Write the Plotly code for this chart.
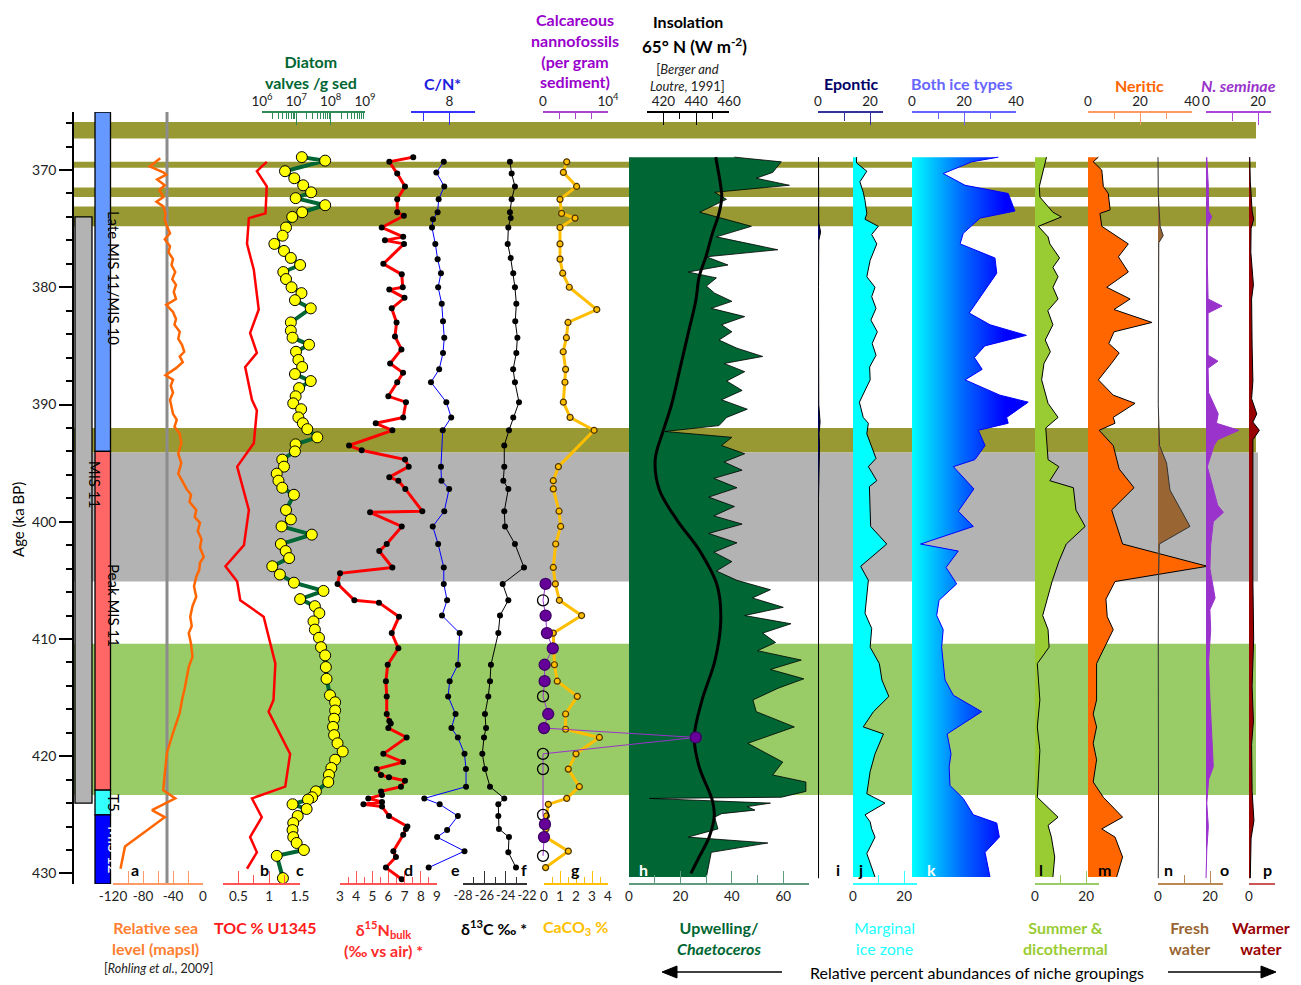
import math
import plotly.graph_objects as go

W, H = 1301, 985
FONT = "Lato, 'Open Sans', sans-serif"

# Age axis (ka BP), youngest at the top
AGE_TOP, AGE_BOT = 365.05, 430.9
TOP_PX, BOT_PX = 112, 884

# ---------------- data ----------------
# a: relative sea level (m)
sl_age = [369.0, 369.7, 370.2, 370.4, 370.8, 371.3, 371.7, 372.3, 372.7, 373.1, 373.7, 374.2, 374.8, 375.4,
          375.9, 376.5, 377.0, 377.6, 378.1, 378.7, 379.3, 379.8, 380.4, 381.0, 381.5, 382.1, 382.7, 383.2,
          383.8, 384.4, 384.9, 385.5, 385.9, 386.4, 386.9, 387.5, 387.9, 388.4, 389.0, 389.6, 390.2, 390.8,
          391.3, 391.9, 392.5, 393.3, 394.2, 395.0, 395.9, 396.6, 397.2, 397.7, 398.3, 399.0, 399.6, 400.1,
          400.8, 401.5, 402.2, 403.0, 403.5, 404.1, 404.7, 405.5, 406.4, 407.2, 408.1, 408.9, 409.5, 410.4,
          411.5, 412.4, 413.2, 414.1, 415.2, 416.3, 418.0, 419.7, 421.5, 422.9, 423.6, 424.6, 425.2, 427.7,
          429.6]
sl_val = [-57, -71, -53, -49, -61, -51, -58, -53, -62, -53, -50, -51, -48, -44, -51, -44, -46, -40, -42, -37,
          -41, -36, -39, -36, -49, -40, -36, -38, -31, -33, -28, -25, -31, -27, -36, -50, -40, -43, -40, -44,
          -42, -40, -35, -38, -31, -29, -33, -29, -33, -27, -22, -16, -18, -9, -11, -4, -7, -2, -4, 1, -4, -5,
          -9, -12, -9, -14, -17, -15, -19, -16, -14, -19, -21, -24, -28, -31, -40, -48, -51, -53, -37, -68,
          -51, -104, -110]
SL_REF = -48  # vertical reference level

# b: TOC %
toc_age = [369.3, 370.1, 371.4, 373.7, 374.1, 376.3, 378.5, 381.9, 383.9, 385.6, 386.8, 389.6, 390.5,
           393.3, 395.3, 399.0, 402.0, 403.8, 405.1, 406.7, 408.1, 412.1, 415.2, 416.2, 419.8, 422.6,
           423.6, 425.2, 426.9, 428.2, 429.6]
toc_val = [0.96, 0.80, 0.96, 0.94, 0.67, 0.64, 0.75, 0.83, 0.69, 0.80, 0.61, 0.72, 0.80, 0.75, 0.48, 0.67,
           0.59, 0.29, 0.48, 0.53, 0.91, 1.10, 1.07, 0.99, 1.34, 1.26, 0.72, 0.88, 0.69, 0.80, 0.64]

# c: diatom valves per gram sediment (log10)
diat_age = [368.9, 369.2, 370.1, 370.7, 371.3, 371.9, 372.4, 373.0, 373.6, 374.0, 374.9, 375.6, 376.3, 376.9,
            377.5, 378.1, 378.7, 379.3, 380.0, 380.5, 381.1, 381.8, 383.0, 383.7, 384.3, 384.9, 385.5, 386.2,
            386.8, 387.4, 388.0, 388.6, 389.3, 389.9, 390.4, 391.1, 391.6, 392.1, 392.8, 393.4, 394.0, 394.7,
            395.3, 395.9, 396.5, 397.1, 397.7, 399.0, 399.8, 400.4, 401.1, 401.9, 402.5, 403.1, 403.8, 404.5,
            405.2, 405.9, 406.6, 407.2, 407.8, 408.5, 409.2, 409.9, 410.7, 411.4, 412.4, 413.4, 414.8, 415.4,
            416.1, 416.8, 417.5, 418.2, 418.9, 419.6, 420.3, 421.0, 421.6, 422.2, 423.0, 423.5, 423.7, 424.1,
            424.5, 425.1, 425.7, 426.3, 426.9, 427.4, 428.0, 428.5, 430.4]
diat_log = [7.16, 7.84, 6.67, 6.94, 7.20, 7.43, 6.98, 7.84, 7.17, 6.88, 6.70, 6.60, 6.36, 6.64, 6.84, 7.11,
            6.62, 6.70, 6.86, 7.15, 6.96, 7.42, 6.84, 6.84, 6.89, 7.37, 6.99, 7.06, 7.17, 6.96, 7.42, 7.08,
            6.98, 6.91, 7.14, 7.06, 7.19, 7.32, 7.61, 6.98, 6.96, 6.59, 6.64, 6.43, 6.48, 6.59, 6.93, 6.70,
            6.84, 6.57, 7.45, 6.55, 6.69, 6.79, 6.30, 6.52, 6.93, 7.79, 7.11, 7.54, 7.67, 7.50, 7.54, 7.66,
            7.72, 7.84, 7.86, 7.88, 7.98, 8.13, 8.13, 8.10, 8.07, 8.10, 8.20, 8.35, 8.13, 8.02, 7.95, 7.93,
            7.57, 7.46, 7.34, 6.89, 7.30, 7.04, 6.91, 6.89, 6.91, 7.01, 7.22, 6.43, 6.61]

# d: d15N bulk (permil vs air)
n15_age = [368.9, 369.3, 370.3, 371.4, 372.5, 373.6, 373.9, 374.9, 375.7, 376.0, 376.3, 378.0, 378.9, 380.0,
           380.2, 380.9, 381.8, 383.0, 384.2, 385.3, 386.5, 387.3, 388.1, 389.3, 389.8, 391.1, 391.6, 392.2,
           393.5, 393.9, 394.7, 395.3, 396.2, 396.5, 397.2, 399.1, 399.2, 400.4, 401.9, 402.5, 403.9, 404.4,
           405.3, 406.7, 406.9, 408.1, 409.5, 410.8, 412.2, 413.6, 414.9, 416.4, 417.0, 417.2, 417.6, 418.4,
           419.8, 420.5, 421.1, 421.6, 421.8, 422.1, 422.6, 423.0, 423.3, 423.6, 423.9, 424.1, 424.3, 425.1,
           426.0, 426.2, 426.7, 428.1, 428.6, 429.5, 430.5]
n15_val = [7.53, 6.05, 6.54, 7.02, 6.54, 6.54, 6.95, 5.58, 6.91, 5.78, 6.96, 5.68, 6.82, 6.88, 6.05, 6.99,
           6.2, 6.5, 6.4, 6.8, 6.1, 6.9, 6.54, 5.99, 7.08, 6.91, 5.21, 6.24, 3.56, 4.34, 7.02, 7.25, 6.05,
           6.61, 7.04, 8.09, 4.86, 6.82, 5.89, 5.43, 6.24, 3.0, 2.85, 3.89, 5.41, 6.65, 6.20, 6.61, 5.95, 5.84,
           5.89, 5.89, 6.05, 6.14, 5.99, 7.12, 5.68, 6.91, 5.27, 5.54, 6.03, 7.02, 6.77, 5.54, 5.6, 4.75, 5.6,
           4.45, 5.6, 6.03, 7.17, 7.08, 6.91, 6.30, 6.46, 5.84, 6.82]

# e: C/N
cn_age = [369.3, 370.2, 371.4, 372.5, 373.6, 374.2, 374.9, 376.3, 377.6, 378.8, 380.0, 381.4, 382.9, 384.3,
          385.6, 387.0, 388.1, 389.8, 391.1, 392.2, 395.3, 396.5, 397.2, 399.1, 400.4, 401.9, 403.9, 405.3,
          406.7, 408.0, 409.5, 412.2, 413.6, 414.9, 416.4, 417.6, 418.4, 419.8, 421.1, 422.6, 423.6, 424.1,
          425.1, 426.3, 426.9, 428.1, 429.5]
cn_val = [7.78, 7.49, 7.80, 7.58, 7.54, 7.36, 7.32, 7.45, 7.54, 7.67, 7.56, 7.7, 7.75, 7.8, 7.75, 7.6, 7.28,
          7.88, 8.07, 7.74, 7.67, 7.69, 7.99, 7.80, 7.35, 7.56, 7.78, 7.78, 7.91, 7.71, 8.40, 8.33, 8.01, 7.95,
          8.24, 8.08, 8.33, 8.59, 8.65, 8.65, 7.02, 7.62, 8.33, 7.91, 7.52, 8.59, 7.19]

# f: d13C (permil)
c13_age = [369.3, 370.3, 371.4, 372.5, 373.6, 374.1, 374.9, 376.3, 377.5, 378.8, 380.0, 381.4, 382.9, 384.3,
           385.6, 387.0, 388.1, 389.8, 391.1, 392.2, 393.5, 395.3, 396.5, 397.2, 399.1, 400.4, 401.9, 403.9,
           405.3, 406.7, 408.0, 409.5, 412.2, 413.6, 414.9, 416.4, 417.6, 418.4, 419.8, 421.1, 422.6, 423.6,
           424.1, 425.1, 426.2, 426.9, 428.2, 429.5]
c13_val = [-23.6, -23.44, -23.13, -23.44, -23.6, -23.53, -23.75, -23.81, -23.53, -23.29, -23.13, -23.0,
           -23.1, -22.9, -23.0, -23.3, -23.13, -22.75, -23.29, -23.69, -24.13, -24.13, -24.22, -23.75, -24.13,
           -24.06, -23.13, -22.28, -24.28, -23.75, -24.53, -24.69, -25.38, -25.47, -25.63, -25.94, -25.84,
           -26.03, -26.19, -25.94, -25.47, -24.13, -24.69, -24.69, -24.63, -23.69, -23.75, -23.03]

# g: CaCO3 %
caco3_age = [369.3, 370.2, 371.4, 372.5, 373.7, 374.1, 374.9, 376.3, 377.6, 378.8, 380.0, 381.9, 383.0,
             384.3, 385.5, 387.0, 388.1, 389.8, 391.1, 392.2, 395.3, 396.5, 397.2, 399.1, 400.4, 401.9, 403.9,
             405.3, 406.7, 408.0, 409.5, 412.2, 413.6, 414.9, 416.4, 417.7, 418.4, 419.8, 421.1, 422.6, 423.6,
             424.1, 425.1, 426.2, 426.9, 428.1, 429.5]
caco3_val = [1.42, 1.21, 2.04, 1.0, 1.1, 1.94, 1.0, 1.0, 1.0, 1.17, 1.58, 3.3, 1.5, 1.4, 1.2, 1.35, 1.31,
             1.21, 1.63, 3.13, 0.9, 0.58, 0.58, 0.94, 1.04, 0.73, 0.58, 0.71, 0.96, 2.35, 0.58, 0.65, 0.83,
             2.08, 1.35, 1.35, 3.46, 2.0, 1.52, 2.21, 1.42, 0.27, 0.15, 0.12, 0.1, 1.52, 0.1]

# calcareous nannofossils per gram sediment (1 = filled symbol, 0 = open symbol)
nanno_age = [405.3, 406.7, 408.0, 409.5, 410.8, 412.2, 413.6, 414.9, 416.4, 417.6, 418.4, 419.8, 421.1,
             425.0, 425.8, 426.9, 428.5]
nanno_val = [400, 0, 400, 600, 1500, 250, 250, 0, 800, 150, 23500, 0, 0, 0, 300, 150, 0]
nanno_filled = [1, 0, 1, 1, 1, 1, 1, 0, 1, 1, 1, 0, 0, 0, 1, 1, 0]

# h: upwelling / Chaetoceros (%)
upw_age = [368.9, 369.3, 370.2, 370.7, 371.3, 371.9, 372.5, 373.6, 374.8, 375.7, 376.8, 377.4, 378.1, 378.7,
           379.2, 379.9, 380.5, 381.2, 381.8, 382.5, 383.2, 383.8, 384.5, 385.2, 385.9, 386.5, 387.2, 388.0,
           388.8, 389.6, 390.4, 391.1, 391.8, 392.3, 392.8, 393.5, 394.2, 394.9, 395.6, 396.3, 397.1, 397.9,
           398.7, 399.5, 400.2, 401.0, 401.8, 402.6, 403.4, 404.2, 405.0, 405.8, 406.5, 407.3, 408.0, 408.7,
           409.5, 410.3, 411.0, 411.8, 412.6, 413.4, 414.2, 415.2, 416.2, 417.5, 418.9, 420.5, 421.6, 422.2,
           423.0, 423.5, 423.6, 424.0, 424.3, 424.6, 424.9, 425.2, 426.2, 426.9, 427.4, 428.2, 430.3]
upw_val = [41, 59.2, 55.9, 49.5, 62.4, 33.3, 37.9, 27.5, 47.6, 34.0, 57.9, 30.1, 38.5, 23.0, 34.0, 30.1, 33.3,
           40, 32, 45, 36, 40, 35, 42, 52, 37, 45, 38, 44, 36, 46, 38, 35, 14, 40, 36, 45, 37, 44, 33, 42, 31,
           41, 33, 44, 31, 42, 33, 40, 34, 42, 55, 48, 60, 45, 63, 52, 57, 50, 67, 55, 68, 58, 48.2, 49.5,
           64.3, 46.2, 59.8, 55.9, 68.8, 68.8, 59.2, 8.0, 55.0, 46, 49, 36, 33.3, 34.6, 23.0, 54.0, 32.0, 30.1]

# 65N summer insolation (W m-2), Berger and Loutre 1991
ins_age = [368.9, 371.4, 372.3, 373.7, 375.4, 377.4, 379.1, 381.1, 384.0, 387.0, 390.0, 392.2, 394.7, 397.3,
           399.9, 402.4, 405.4, 408.4, 411.8, 415.2, 418.4, 420.9, 423.8, 425.1, 426.9, 428.6, 430.0]
ins_val = [451.9, 455.0, 455.6, 453.9, 449.9, 445.9, 441.8, 439.8, 435.0, 430.0, 425.0, 420.0, 415.0, 417.6,
           428.5, 441.8, 452.7, 455.0, 451.5, 443.6, 438.8, 441.8, 449.9, 451.0, 447.9, 441.8, 436.8]

# i: epontic (%)
epo_age = [368.9, 372.0, 374.5, 375.3, 376.0, 380.0, 385.0, 390.0, 391.5, 392.5, 393.5, 398.0, 405.0, 410.0,
           415.0, 420.0, 425.0, 430.4]
epo_val = [0.2, 0.2, 0.3, 1.0, 0.3, 0.2, 0.2, 0.3, 0.8, 0.4, 0.6, 0.2, 0.2, 0.2, 0.2, 0.2, 0.2, 0.2]

# j: marginal ice zone (%)
miz_age = [368.9, 369.4, 370.1, 371.0, 371.9, 372.6, 373.7, 374.2, 374.8, 375.5, 376.3, 377.7, 379.1, 380.0,
           380.8, 381.8, 382.8, 383.8, 384.8, 385.8, 386.8, 387.9, 389.8, 391.1, 391.6, 392.5, 394.6, 395.3,
           396.5, 397.0, 400.4, 401.9, 403.8, 405.0, 407.8, 409.1, 410.7, 412.1, 413.5, 414.9, 416.2, 417.5,
           418.1, 419.8, 421.3, 423.2, 424.0, 425.0, 425.6, 426.2, 426.9, 428.3, 430.3]
miz_val = [1.4, 1.4, 5.4, 2.7, 4.0, 4.7, 5.4, 4.7, 9.9, 7.3, 9.3, 6.7, 5.4, 8.6, 7.3, 9.0, 7.0, 9.5, 7.5, 9.0,
           6.5, 6.7, 2.5, 4.0, 6.0, 5.4, 9.0, 6.0, 9.3, 6.4, 6.9, 13.2, 3.0, 6.0, 4.7, 7.3, 6.7, 10.3, 11.3,
           14.0, 8.0, 4.0, 11.9, 8.6, 6.7, 5.4, 12.5, 4.7, 6.7, 7.3, 8.6, 5.4, 8.6]

# k: both ice types (%)
ice_age = [368.9, 369.3, 370.3, 371.3, 372.0, 373.5, 374.1, 375.4, 376.3, 377.5, 378.8, 381.1, 382.2, 383.2,
           384.1, 385.0, 386.0, 387.0, 387.9, 389.2, 389.8, 391.1, 391.6, 392.2, 393.5, 394.7, 395.3, 397.2,
           399.1, 400.4, 401.9, 402.5, 403.9, 405.3, 406.7, 408.0, 409.2, 410.7, 413.5, 414.8, 416.2, 418.1,
           419.8, 420.9, 422.5, 423.6, 425.0, 425.7, 426.9, 428.2, 430.3]
ice_val = [33.2, 23.0, 12.0, 20.4, 37.0, 39.6, 26.2, 19.7, 18.5, 31.9, 32.6, 25.5, 22, 30, 44, 28, 24, 27,
           20.4, 33.8, 44.7, 36.4, 37.0, 25.5, 28.1, 24.2, 15.9, 23.8, 17.8, 23.6, 3.3, 17.8, 13.1, 17.2, 10.4,
           9.5, 12.0, 11.4, 12.7, 15.9, 26.8, 13.5, 15.0, 14.3, 14.6, 19.7, 23.6, 32.6, 33.6, 28.1, 30.0]

# l: summer & dicothermal (%)
sum_age = [368.9, 370.0, 371.4, 372.3, 373.6, 374.0, 374.8, 375.7, 376.3, 377.5, 378.3, 379.1, 380.0, 381.0,
           382.0, 383.2, 384.5, 385.5, 386.5, 387.9, 389.9, 391.1, 392.0, 394.7, 395.3, 396.5, 397.1, 399.0,
           400.4, 401.9, 403.4, 405.0, 406.4, 408.0, 409.2, 410.7, 412.1, 415.2, 417.5, 419.5, 423.5, 425.2,
           425.9, 426.9, 428.6, 430.3]
sum_val = [4.5, 3.2, 1.7, 1.9, 7.0, 10.3, 1.3, 5.1, 5.8, 9.6, 7.0, 9.0, 7.0, 9.0, 5, 7, 4, 6, 3.5, 2.6, 5.1,
           9.0, 4.2, 5.1, 9.3, 5.8, 15.0, 16.0, 19.6, 12.2, 9.3, 6.8, 5.1, 3.0, 5.1, 5.5, 0.9, 1.9, 0.9, 1.9,
           0.9, 9.0, 5.1, 6.4, 7.7, 7.0]

# m: neritic (%)
ner_age = [368.9, 369.3, 370.0, 371.4, 372.0, 373.4, 373.7, 374.8, 376.3, 377.4, 378.7, 380.0, 381.0, 381.9,
           383.0, 383.8, 384.8, 385.6, 386.5, 387.9, 389.2, 389.9, 391.1, 391.6, 392.2, 393.5, 395.5, 397.1,
           399.0, 401.9, 403.8, 405.1, 406.6, 408.1, 409.2, 412.1, 415.2, 416.4, 417.5, 418.9, 420.3, 422.2,
           423.5, 425.2, 426.2, 426.9, 428.6, 430.3]
ner_val = [4.0, 2.0, 5.3, 5.9, 7.8, 8.5, 4.6, 5.3, 15.5, 11.7, 15.5, 7.2, 16.2, 10, 24.6, 10, 8, 12, 9, 4.0,
           9.7, 18.1, 9.7, 10.4, 4.3, 9.7, 12, 17.7, 9.1, 13.3, 45.9, 10.4, 6.9, 7.4, 9.7, 3.3, 3.3, 2.0, 3.3,
           2.0, 3.3, 2.0, 5.9, 13.3, 5.3, 10.4, 13.3, 11.0]

# n: fresh water (%)
fw_age = [368.9, 372.0, 374.8, 375.6, 376.2, 380.0, 385.0, 390.0, 393.5, 395.0, 397.3, 400.4, 401.9, 405.0,
          410.0, 415.0, 420.0, 425.0, 430.4]
fw_val = [0, 0.1, 0.8, 2.0, 0.3, 0.2, 0.2, 0.1, 0.6, 3.3, 4.6, 12.3, 0.5, 0.2, 0.1, 0.2, 0.1, 0.2, 0.1]

# o: Neodenticula seminae (%)
sem_age = [368.9, 371.4, 373.5, 374.0, 374.8, 378.0, 381.0, 381.6, 382.2, 385.8, 386.3, 386.9, 389.0, 390.8,
           391.6, 392.2, 393.0, 393.5, 395.3, 397.5, 398.6, 399.2, 400.0, 402.0, 404.0, 406.5, 407.5, 409.2,
           412.0, 415.0, 418.0, 419.5, 420.9, 422.0, 424.0, 426.0, 428.0, 430.4]
sem_val = [0.3, 0.9, 1.0, 2.2, 0.5, 0.5, 0.8, 6.2, 0.8, 0.8, 4.6, 0.8, 1.0, 4.7, 4.0, 12.7, 4.5, 3.1, 0.5,
           3.0, 4.5, 6.7, 2.8, 1.8, 1.5, 3.5, 1.5, 1.8, 1.0, 1.5, 2.0, 2.5, 2.8, 1.0, 0.3, 0.9, 0.3, 0.0]

# p: warmer water (%)
ww_age = [368.9, 371.0, 373.5, 374.2, 375.0, 377.0, 379.8, 381.0, 385.0, 388.0, 389.5, 390.8, 391.5, 392.2,
          393.0, 395.0, 400.0, 405.0, 410.0, 414.0, 417.0, 419.0, 423.0, 425.5, 427.0, 430.4]
ww_val = [0.3, 0.5, 1.2, 1.8, 0.8, 0.7, 1.7, 1.0, 1.2, 1.5, 1.0, 3.0, 1.5, 4.0, 1.5, 1.5, 1.6, 1.5, 1.8, 1.2,
          1.7, 1.0, 1.2, 1.9, 0.8, 0.5]

# shaded intervals (ka)
olive_bands = [(365.9, 367.3), (369.3, 369.8), (371.5, 372.3), (373.1, 374.8), (392.0, 394.1)]
gray_band = (394.1, 405.1)
green_band = (410.4, 423.3)

# stratigraphic bars
stage_outer = (374.0, 424.0, '#b3b3b3', 'MIS 11', 396.8)
stage_inner = [(AGE_TOP, 394.0, '#6699ff', 'Late MIS 11/MIS 10', 'black', 379.2),
               (394.0, 422.9, '#ff6666', 'Peak MIS 11', 'black', 407.1),
               (422.9, 425.0, '#33ffff', 'T5', 'black', 424.0),
               (425.0, AGE_BOT, '#0000ff', 'MIS 12', 'white', 428.0)]

# ---------------- figure scaffolding ----------------
def fx(px):
    return px / W


def fy(py):
    return 1 - py / H


layout_axes = {}
traces = []
scale_traces = []
n_axes = [0]


def new_axis():
    n_axes[0] += 1
    n = n_axes[0]
    return ('x' if n == 1 else f'x{n}'), ('xaxis' if n == 1 else f'xaxis{n}')


def panel(v0, v1, p0, p1, side, color, labels, minor=(), minor_len=6, log=False, label_size=13.5):
    """Full-width data axis plus a short visible scale bar spanning v0..v1.

    labels: {value: text} for the long labelled ticks; minor: unlabelled ticks.
    """
    a0, a1 = (math.log10(v0), math.log10(v1)) if log else (v0, v1)
    per_px = (a1 - a0) / (p1 - p0)
    rng = [a0 - p0 * per_px, a0 + (W - p0) * per_px]
    did, dkey = new_axis()
    d = dict(domain=[0, 1], range=rng, type='log' if log else 'linear', visible=False,
             anchor='y', fixedrange=True, showgrid=False, zeroline=False)
    if did != 'x':
        d['overlaying'] = 'x'
    layout_axes[dkey] = d

    sid, skey = new_axis()
    pos = fy(BOT_PX) if side == 'bottom' else fy(TOP_PX)
    major = list(labels.keys())
    layout_axes[skey] = dict(
        domain=[fx(p0), fx(p1)], range=[a0, a1], type='log' if log else 'linear',
        anchor='free', position=pos, side=side,
        showline=True, linecolor=color, linewidth=1.5,
        ticks='inside', ticklen=12, tickwidth=1.3, tickcolor=color, tickangle=0,
        tickmode='array', tickvals=major, ticktext=[labels[v] for v in major],
        minor=dict(tickmode='array', tickvals=list(minor), ticks='inside', ticklen=minor_len,
                   tickwidth=1.3, tickcolor=color),
        tickfont=dict(family=FONT, size=label_size, color='#222'),
        showgrid=False, zeroline=False, fixedrange=True, automargin=False)
    scale_traces.append(go.Scatter(x=[v0], y=[None], xaxis=sid, yaxis='y', mode='markers',
                                   showlegend=False, hoverinfo='skip'))
    return did


# panels (creation order sets drawing order)
ax_sl = panel(-120, 0, 113, 203, 'bottom', '#ff9966',
              {-120: '-120', -80: '-80', -40: '-40', 0: '0'}, [-100, -60, -20], minor_len=12)
ax_toc = panel(0.25, 1.5, 223, 300, 'bottom', '#ff5555', {0.5: '0.5', 1.0: '1', 1.5: '1.5'},
               [0.25, 0.75, 1.25], minor_len=8)
ax_diat = panel(1e6, 1e9, 262, 365, 'top', '#2e8b57',
                {1e6: '10<sup>6</sup>', 1e7: '10<sup>7</sup>', 1e8: '10<sup>8</sup>', 1e9: '10<sup>9</sup>'},
                [m * 10 ** e for e in (6, 7, 8) for m in range(2, 10)], log=True)
ax_n15 = panel(3, 9, 340, 437, 'bottom', '#ff5555', {v: str(v) for v in range(3, 10)},
               [3.5, 4.5, 5.5, 6.5, 7.5, 8.5])
ax_cn = panel(6.5, 9, 411, 475, 'top', '#3333ff', {8: '8'}, [6.5, 7, 9], minor_len=8)
ax_c13 = panel(-28, -22, 463, 527, 'bottom', '#333333', {-28: '-28', -26: '-26', -24: '-24', -22: '-22'},
               [-27, -25, -23], label_size=12.5)
ax_caco3 = panel(0, 4, 544, 608, 'bottom', '#ffc000', {v: str(v) for v in range(5)},
                 [0.5, 1.5, 2.5, 3.5])
ax_upw = panel(0, 70, 629, 809, 'bottom', '#5f9b7c', {0: '0', 20: '20', 40: '40', 60: '60'},
               [10, 30, 50, 70], minor_len=8)
ax_ins = panel(410, 460, 647, 729, 'top', '#000000', {420: '420', 440: '440', 460: '460'},
               [410, 430, 450])
ax_nan = panel(0, 10000, 543, 608, 'top', '#aa44cc', {0: '0', 10000: '10<sup>4</sup>'},
               [2500, 5000, 7500])
ax_epo = panel(0, 25, 818, 883, 'top', '#333399', {0: '0', 20: '20'}, [10, 25], minor_len=8)
ax_miz = panel(0, 25, 853, 917, 'bottom', '#33ffff', {0: '0', 20: '20'}, [10, 25], minor_len=8)
ax_ice = panel(0, 40, 912, 1016, 'top', '#6666ff', {0: '0', 20: '20', 40: '40'}, [10, 30])
ax_sum = panel(0, 25, 1035, 1099, 'bottom', '#99cc66', {0: '0', 20: '20'}, [10, 25], minor_len=8)
ax_ner = panel(0, 40, 1088, 1192, 'top', '#ff9966', {0: '0', 20: '20', 40: '40'}, [10, 30])
ax_fw = panel(0, 25, 1158, 1223, 'bottom', '#bb8855', {0: '0', 20: '20'}, [10, 25], minor_len=8)
ax_sem = panel(0, 25, 1206, 1271, 'top', '#aa44dd', {0: '0', 20: '20'}, [10, 25], minor_len=8)
ax_ww = panel(0, 10, 1249, 1275, 'bottom', '#cc5555', {0: '0'}, [10], minor_len=12)


def line(ax, x, y, color, width, **kw):
    traces.append(go.Scatter(x=x, y=y, xaxis=ax, yaxis='y', mode='lines',
                             line=dict(color=color, width=width), showlegend=False,
                             hoverinfo='skip', **kw))


def fill(ax, x, y, fillcolor, edge='black', width=1, **kw):
    traces.append(go.Scatter(x=x, y=y, xaxis=ax, yaxis='y', mode='lines', fill='tozerox',
                             fillcolor=fillcolor, line=dict(color=edge, width=width),
                             showlegend=False, hoverinfo='skip', **kw))


# a: sea level + reference line
line(ax_sl, [SL_REF, SL_REF], [AGE_TOP, AGE_BOT], '#8c8c8c', 3)
line(ax_sl, sl_val, sl_age, '#ff6600', 2.5)
# b: TOC
line(ax_toc, toc_val, toc_age, '#ff0000', 2.5)
# c: diatom abundance
traces.append(go.Scatter(x=[10 ** v for v in diat_log], y=diat_age, xaxis=ax_diat, yaxis='y',
                         mode='lines+markers', line=dict(color='#006633', width=4),
                         marker=dict(color='#ffff00', size=11, line=dict(color='black', width=1)),
                         showlegend=False, hoverinfo='skip'))
# d: d15N
traces.append(go.Scatter(x=n15_val, y=n15_age, xaxis=ax_n15, yaxis='y', mode='lines+markers',
                         line=dict(color='#ff0000', width=3), marker=dict(color='black', size=6),
                         showlegend=False, hoverinfo='skip'))
# e: C/N
traces.append(go.Scatter(x=cn_val, y=cn_age, xaxis=ax_cn, yaxis='y', mode='lines+markers',
                         line=dict(color='#0000ff', width=1), marker=dict(color='black', size=6),
                         showlegend=False, hoverinfo='skip'))
# f: d13C
traces.append(go.Scatter(x=c13_val, y=c13_age, xaxis=ax_c13, yaxis='y', mode='lines+markers',
                         line=dict(color='black', width=1), marker=dict(color='black', size=6),
                         showlegend=False, hoverinfo='skip'))
# g: CaCO3
traces.append(go.Scatter(x=caco3_val, y=caco3_age, xaxis=ax_caco3, yaxis='y', mode='lines+markers',
                         line=dict(color='#ffbf00', width=3),
                         marker=dict(color='#ffbf00', size=6, line=dict(color='#4d3300', width=1.2)),
                         showlegend=False, hoverinfo='skip'))
# h: upwelling and insolation
fill(ax_upw, upw_val, upw_age, '#006633', width=0.8)
traces.append(go.Scatter(x=ins_val, y=ins_age, xaxis=ax_ins, yaxis='y', mode='lines',
                         line=dict(color='black', width=3, shape='spline', smoothing=1.0),
                         showlegend=False, hoverinfo='skip'))
# calcareous nannofossils (on top of h)
traces.append(go.Scatter(
    x=nanno_val, y=nanno_age, xaxis=ax_nan, yaxis='y', mode='lines+markers',
    line=dict(color='#9933cc', width=1),
    marker=dict(size=11, color=['#660099' if f else 'rgba(0,0,0,0)' for f in nanno_filled],
                line=dict(color=['#3d0066' if f else 'black' for f in nanno_filled], width=1.3)),
    showlegend=False, hoverinfo='skip'))
# i - p: niche groupings
fill(ax_epo, epo_val, epo_age, '#000066')
fill(ax_miz, miz_val, miz_age, '#00ffff')
traces.append(go.Scatter(x=ice_val, y=ice_age, xaxis=ax_ice, yaxis='y', mode='lines', fill='tozerox',
                         fillgradient=dict(type='horizontal', start=0, stop=36,
                                           colorscale=[[0, '#00ffff'], [0.55, '#0066ff'], [1, '#0000ff']]),
                         line=dict(color='#0000ff', width=1), showlegend=False, hoverinfo='skip'))
fill(ax_sum, sum_val, sum_age, '#99cc33')
fill(ax_ner, ner_val, ner_age, '#ff6600')
fill(ax_fw, fw_val, fw_age, '#996633', edge='#333333')
fill(ax_sem, sem_val, sem_age, '#9933cc', edge='#9933cc')
fill(ax_ww, ww_val, ww_age, '#990000')

# ---------------- shapes ----------------
shapes = []
for a0, a1 in olive_bands:
    shapes.append(dict(type='rect', xref='paper', yref='y', x0=fx(73), x1=fx(1256), y0=a0, y1=a1,
                       fillcolor='#999933', line=dict(width=0), layer='below'))
shapes.append(dict(type='rect', xref='paper', yref='y', x0=fx(73), x1=fx(1258), y0=gray_band[0],
                   y1=gray_band[1], fillcolor='#b3b3b3', line=dict(width=0), layer='below'))
shapes.append(dict(type='rect', xref='paper', yref='y', x0=fx(73), x1=fx(1256), y0=green_band[0],
                   y1=green_band[1], fillcolor='#99cc66', line=dict(width=0), layer='below'))

s0, s1, scol, slab, smid = stage_outer
shapes.append(dict(type='rect', xref='paper', yref='y', x0=fx(75), x1=fx(92), y0=s0, y1=s1,
                   fillcolor=scol, line=dict(color='black', width=1.3), layer='above'))
for a0, a1, col, txt, tc, mid in stage_inner:
    shapes.append(dict(type='rect', xref='paper', yref='y', x0=fx(95), x1=fx(110.5), y0=a0, y1=a1,
                       fillcolor=col, line=dict(color='black', width=1.3), layer='above'))

# arrows beside the niche-grouping caption
ARROW_Y = 972
for tail, head in ((782, 662), (1168, 1276)):
    d = 1 if head > tail else -1
    shapes.append(dict(type='line', xref='paper', yref='paper', x0=fx(tail), x1=fx(head - d * 12),
                       y0=fy(ARROW_Y), y1=fy(ARROW_Y), line=dict(color='black', width=1.5)))
    shapes.append(dict(type='path', xref='paper', yref='paper',
                       path=f'M {fx(head)} {fy(ARROW_Y)} L {fx(head - d * 15)} {fy(ARROW_Y - 6)} '
                            f'L {fx(head - d * 15)} {fy(ARROW_Y + 6)} Z',
                       fillcolor='black', line=dict(color='black', width=1)))

# ---------------- annotations ----------------
ann = []


def text(t, x, y, size=16, color='black', bold=False, angle=0):
    if bold:
        t = f'<b>{t}</b>'
    ann.append(dict(text=t, x=fx(x), y=fy(y), xref='paper', yref='paper', showarrow=False,
                    textangle=angle, xanchor='center', yanchor='middle',
                    font=dict(family=FONT, size=size, color=color)))


# stage bar labels
ann.append(dict(text=slab, x=fx(83.5), y=smid, xref='paper', yref='y', showarrow=False,
                textangle=90, font=dict(family=FONT, size=15, color='black')))
for a0, a1, col, txt, tc, mid in stage_inner:
    ann.append(dict(text=txt, x=fx(103), y=mid, xref='paper', yref='y', showarrow=False,
                    textangle=90, font=dict(family=FONT, size=15, color=tc)))

text('Age (ka BP)', 18, 520, size=15, angle=-90)

# top titles
text('Diatom<br>valves /g sed', 311, 72, color='#006633', bold=True)
text('C/N*', 443, 83, color='#2020e0', bold=True)
text('Calcareous<br>nannofossils<br>(per gram<br>sediment)', 575, 50, color='#9900cc', bold=True)
text('Insolation', 688, 21, bold=True)
text('65° N (W m<sup>-2</sup>)', 694, 46, size=17, bold=True)
text('[<i>Berger and</i><br><i>Loutre</i>, 1991]', 688, 77, size=13, color='#222')
text('Epontic', 851, 83, color='#000066', bold=True)
text('Both ice types', 962, 83, color='#6666ff', bold=True)
text('Neritic', 1139, 85, color='#ff6600', bold=True)
text('<i>N. seminae</i>', 1238, 85, color='#9933cc', bold=True)

# bottom titles
text('Relative sea<br>level (mapsl)', 155, 938, color='#ff8030', bold=True)
text('[<i>Rohling et al.</i>, 2009]', 158, 968, size=12.5, color='#222')
text('TOC % U1345', 265, 927, color='#ff1a1a', bold=True)
text('δ<sup>15</sup>N<sub>bulk</sub><br>(‰ vs air) *', 384, 939, color='#ff2a2a', bold=True)
text('δ<sup>13</sup>C ‰ *', 494, 927, bold=True)
text('CaCO<sub>3</sub> %', 575, 927, color='#ffc000', bold=True)
text('Upwelling/<br><i>Chaetoceros</i>', 719, 938, color='#006633', bold=True)
text('Marginal<br>ice zone', 885, 938, color='#22ffff')
text('Summer &<br>dicothermal', 1065, 938, color='#99cc33', bold=True)
text('Fresh<br>water', 1189, 938, color='#996633', bold=True)
text('Warmer<br>water', 1261, 938, color='#990000', bold=True)
text('Relative percent abundances of niche groupings', 977, 972, size=16)

# panel letters
letters = [('a', 135), ('b', 264), ('c', 300), ('d', 408), ('e', 455), ('f', 524), ('g', 575),
           ('h', 643), ('i', 838), ('j', 860), ('k', 931), ('l', 1041), ('m', 1104), ('n', 1168),
           ('o', 1224), ('p', 1267)]
for ch, xp in letters:
    text(ch, xp, 869, size=16, bold=True, color='white' if ch in ('h', 'k') else 'black')

# ---------------- layout ----------------
layout = dict(
    width=W, height=H, autosize=False,
    margin=dict(l=0, r=0, t=0, b=0, pad=0, autoexpand=False),
    paper_bgcolor='white', plot_bgcolor='rgba(0,0,0,0)',
    showlegend=False, hovermode=False,
    font=dict(family=FONT, size=13, color='#222'),
    yaxis=dict(domain=[fy(BOT_PX), fy(TOP_PX)], range=[AGE_BOT, AGE_TOP], anchor='free',
               position=fx(73), side='left', showline=True, linecolor='black', linewidth=1.5,
               ticks='outside', ticklen=13, tickwidth=1.5, tickcolor='black',
               tickmode='array', tickvals=[370, 380, 390, 400, 410, 420, 430],
               minor=dict(tickmode='array', tickvals=[v for v in range(366, 431, 2) if v % 10],
                          ticks='outside', ticklen=6, tickwidth=1.5, tickcolor='black'),
               tickfont=dict(family=FONT, size=14, color='#222'), automargin=False,
               showgrid=False, zeroline=False, fixedrange=True),
    shapes=shapes, annotations=ann,
)
layout.update(layout_axes)

fig = go.Figure(data=scale_traces + traces, layout=layout)
fig.write_html("out.html")
